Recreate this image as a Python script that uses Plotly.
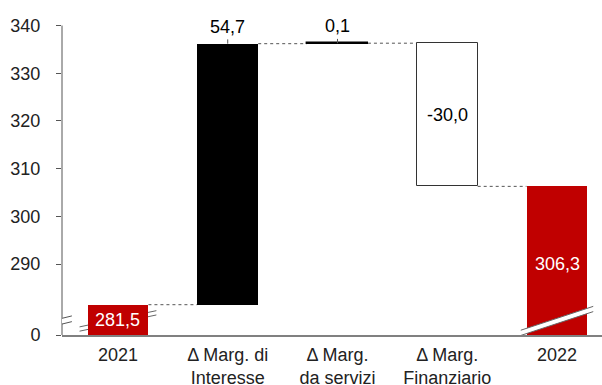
import plotly.graph_objects as go

# Waterfall: 2021 margin -> contributions -> 2022 margin
categories = ["2021", "Δ Marg. di<br>Interesse", "Δ Marg.<br>da servizi", "Δ Marg.<br>Finanziario", "2022"]
start_value = 281.5
deltas = [54.7, 0.1, -30.0]
end_value = 306.3

# Broken y-axis: the axis floor stands in for 0
axis_floor = 275.15
y_top = 342.0
tick_values = [290, 300, 310, 320, 330, 340]

RED = "#C00000"
FONT = "Liberation Sans, Arial, sans-serif"
TXT = "#222222"
BAR_W = 0.555


def fmt(v):
    return f"{v:.1f}".replace(".", ",")


# bar geometry derived from the data
bases, tops = [], []
bases.append(axis_floor)
tops.append(start_value)
level = start_value
for d in deltas:
    bases.append(level)
    level = level + d
    tops.append(level)
bases.append(axis_floor)
tops.append(end_value)

xs = list(range(len(categories)))
fills = [RED, "black", "black", "white", RED]
outlines = [RED, "black", "black", "#333333", RED]
outline_w = [0, 0, 1.4, 1, 0]

fig = go.Figure()
fig.add_trace(go.Bar(
    x=xs,
    y=[t - b for t, b in zip(tops, bases)],
    base=bases,
    width=BAR_W,
    marker=dict(color=fills, line=dict(color=outlines, width=outline_w)),
    hoverinfo="skip",
    showlegend=False,
))

shapes = []
annotations = []

# dotted connectors between consecutive bars
levels = [start_value]
lv = start_value
for d in deltas:
    lv += d
    levels.append(lv)
for i, lvl in enumerate(levels):
    shapes.append(dict(type="line", xref="x", yref="y",
                       x0=i + BAR_W / 2, x1=i + 1 - BAR_W / 2, y0=lvl, y1=lvl,
                       line=dict(color="#555555", width=1, dash="dot"), layer="below"))

# y-axis line from 0 up to the top tick
shapes.append(dict(type="line", xref="paper", yref="y", x0=0, x1=0,
                   y0=axis_floor, y1=max(tick_values),
                   line=dict(color="#555555", width=1)))

# axis break marks on the y-axis
x_axis = -0.51
brk = 278.1
shapes.append(dict(type="path", xref="x", yref="y",
                   path=f"M {x_axis-0.07},{brk-1.0} L {x_axis+0.09},{brk-0.1} "
                        f"L {x_axis+0.09},{brk+1.1} L {x_axis-0.07},{brk+0.2} Z",
                   fillcolor="white", line=dict(width=0)))
for off in (-0.6, 0.6):
    shapes.append(dict(type="line", xref="x", yref="y",
                       x0=x_axis - 0.07, x1=x_axis + 0.09,
                       y0=brk + off - 0.45, y1=brk + off + 0.45,
                       line=dict(color="#555555", width=1)))

# break band on the 2021 bar (only the ends show outside the bar)
c0 = 0
for off in (-0.45, 0.45):
    shapes.append(dict(type="line", xref="x", yref="y", layer="below",
                       x0=c0 - 0.35, x1=c0 + 0.35,
                       y0=brk + off - 1.7, y1=brk + off + 1.7,
                       line=dict(color="#666666", width=1)))

# break band across the 2022 bar
c4 = 4
h = 0.55
shapes.append(dict(type="path", xref="x", yref="y",
                   path=f"M {c4-0.33},{brk-2.5-h} L {c4+0.33},{brk+2.5-h} "
                        f"L {c4+0.33},{brk+2.5+h} L {c4-0.33},{brk-2.5+h} Z",
                   fillcolor="white", line=dict(width=0)))
for off in (-h, h):
    shapes.append(dict(type="line", xref="x", yref="y",
                       x0=c4 - 0.33, x1=c4 + 0.33,
                       y0=brk + off - 2.5, y1=brk + off + 2.5,
                       line=dict(color="#666666", width=1)))

# value labels
annotations.append(dict(x=0, y=(axis_floor + start_value) / 2, text=fmt(start_value),
                        showarrow=False, font=dict(family=FONT, size=18, color="white"),
                        bgcolor=RED, borderpad=0))
for i, d in enumerate(deltas, start=1):
    if d >= 0:
        annotations.append(dict(x=i, y=tops[i], text=fmt(d), showarrow=False,
                                yanchor="bottom", yshift=5,
                                font=dict(family=FONT, size=18, color="black")))
        # short leader tick between label and bar
        shapes.append(dict(type="line", xref="x", yref="y", x0=i, x1=i,
                           y0=tops[i], y1=tops[i] + 0.9,
                           line=dict(color="#555555", width=1)))
    else:
        annotations.append(dict(x=i, y=(bases[i] + tops[i]) / 2, text=fmt(d),
                                showarrow=False,
                                font=dict(family=FONT, size=18, color="black")))
annotations.append(dict(x=4, y=(axis_floor + end_value) / 2, text=fmt(end_value),
                        showarrow=False, yshift=-3,
                        font=dict(family=FONT, size=18, color="white")))

fig.update_layout(
    width=602, height=385,
    margin=dict(l=62, r=0, t=15.5, b=50),
    paper_bgcolor="white", plot_bgcolor="white",
    font=dict(family=FONT, size=18, color=TXT),
    shapes=shapes,
    annotations=annotations,
    bargap=0,
    xaxis=dict(range=[-0.51, 4.41], tickvals=xs, ticktext=categories,
               showline=True, linecolor="#808080", linewidth=2,
               showgrid=False, zeroline=False, ticks="",
               ticklabelstandoff=2, automargin=False,
               tickfont=dict(family=FONT, size=18, color=TXT), fixedrange=True),
    yaxis=dict(range=[axis_floor, y_top],
               tickvals=[axis_floor] + tick_values,
               ticktext=["0"] + [str(v) for v in tick_values],
               showline=False, showgrid=False, zeroline=False,
               ticks="outside", ticklen=5, tickcolor="#555555", tickwidth=1,
               ticklabelstandoff=12, automargin=False,
               tickfont=dict(family=FONT, size=18, color=TXT), fixedrange=True),
)

fig.write_html("out.html")
